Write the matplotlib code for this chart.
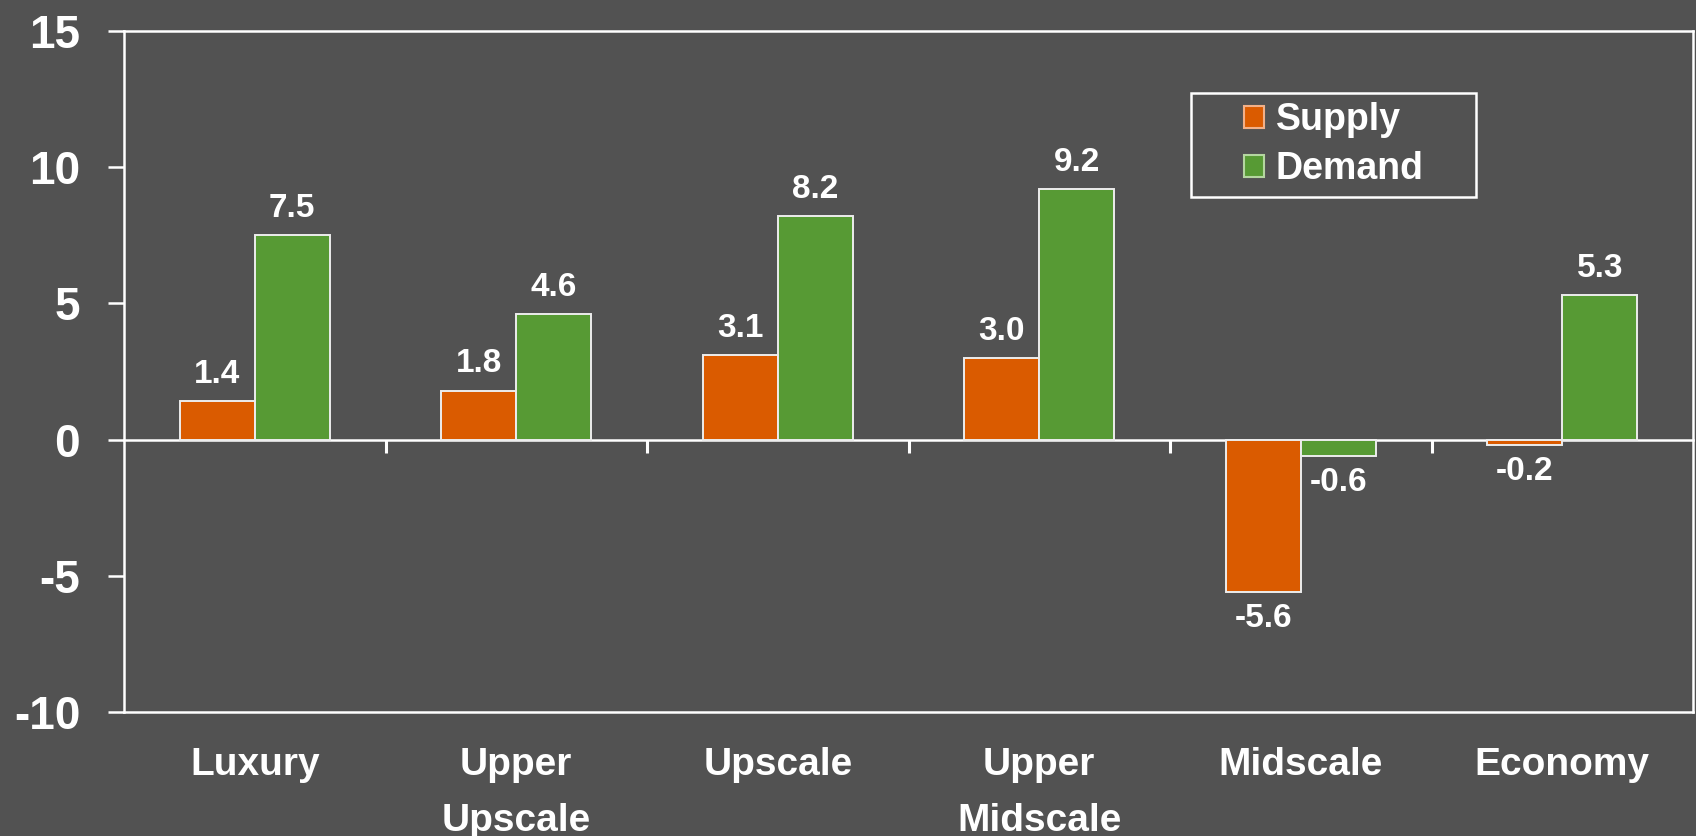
import matplotlib
matplotlib.use("Agg")
import matplotlib.pyplot as plt
import numpy as np
from matplotlib.patches import Patch
from matplotlib.path import Path

# Data
categories = ["Luxury", "Upper\nUpscale", "Upscale", "Upper\nMidscale", "Midscale", "Economy"]
supply = [1.4, 1.8, 3.1, 3.0, -5.6, -0.2]
demand = [7.5, 4.6, 8.2, 9.2, -0.6, 5.3]
series_names = ["Supply", "Demand"]
y_ticks = [-10, -5, 0, 5, 10, 15]

BG = "#525252"
ORANGE = "#DA5B00"
GREEN = "#579A34"
WHITE = "white"

FONT = ["Liberation Sans", "DejaVu Sans"]

fig = plt.figure(figsize=(16.96, 8.36), dpi=100, facecolor=BG)
ax = fig.add_axes([124 / 1696, 1 - 712 / 836, 1569 / 1696, 681 / 836])
ax.set_facecolor(BG)

x = np.arange(len(categories))
w = 0.287
bars_s = ax.bar(x - w / 2, supply, w, color=ORANGE, edgecolor="#EDEDED", linewidth=1.4, zorder=2)
bars_d = ax.bar(x + w / 2, demand, w, color=GREEN, edgecolor="#EDEDED", linewidth=1.4, zorder=2)

ax.set_xlim(-0.5, len(categories) - 0.5)
ax.set_ylim(y_ticks[0], y_ticks[-1])

# Frame
for side in ["left", "right", "top", "bottom"]:
    ax.spines[side].set_color(WHITE)
    ax.spines[side].set_linewidth(1.8)

ax.set_yticks(y_ticks)
ax.set_yticklabels([str(v) for v in y_ticks], family=FONT, fontsize=33,
                   fontweight="bold", color=WHITE)
ax.tick_params(axis="y", direction="out", length=11.5, width=1.8, color=WHITE, pad=20)

ax.set_xticks(x)
ax.set_xticklabels(categories, family=FONT, fontsize=28, fontweight="bold",
                   color=WHITE, linespacing=1.72)
ax.tick_params(axis="x", length=0, pad=25)

# Zero line with category separators
ymin, ymax = ax.get_ylim()
zero_frac = (0 - ymin) / (ymax - ymin)
zax = ax.secondary_xaxis(zero_frac)
zax.set_xticks(x[:-1] + 0.5)
zax.tick_params(axis="x", direction="out", length=9.5, width=2.2, color=WHITE,
                labelbottom=False, labeltop=False)
for s in zax.spines.values():
    s.set_color(WHITE)
    s.set_linewidth(1.8)

# Value labels
for bars, vals in ((bars_s, supply), (bars_d, demand)):
    for b, v in zip(bars, vals):
        cx = b.get_x() + b.get_width() / 2
        if v >= 0:
            ax.annotate(f"{v:.1f}", (cx, v), xytext=(0, 8), textcoords="offset points",
                        ha="center", va="bottom", fontsize=24, fontweight="bold",
                        color=WHITE, family=FONT)
        else:
            ax.annotate(f"{v:.1f}", (cx, v), xytext=(0, -8), textcoords="offset points",
                        ha="center", va="top", fontsize=24, fontweight="bold",
                        color=WHITE, family=FONT)

# Legend with a wider frame
def wide_frame(x0, y0, width, height, mutation_size):
    padx = 1.15 * mutation_size
    x0 = x0 - padx
    width = width + 2 * padx
    verts = [(x0, y0), (x0 + width, y0), (x0 + width, y0 + height), (x0, y0 + height), (x0, y0)]
    return Path(verts, closed=True)

handles = [Patch(facecolor=ORANGE, edgecolor="#F2B088", linewidth=1.5),
           Patch(facecolor=GREEN, edgecolor="#B4D6A0", linewidth=1.5)]
leg = ax.legend(handles, series_names, loc="center", bbox_to_anchor=(0.771, 0.833),
                frameon=True, fancybox=False, borderpad=0.25, labelspacing=0.35,
                handlelength=0.55, handleheight=0.55, handletextpad=0.3,
                prop=dict(family=FONT, size=27, weight="bold"))
for t in leg.get_texts():
    t.set_color(WHITE)
frame = leg.get_frame()
frame.set_facecolor(BG)
frame.set_edgecolor(WHITE)
frame.set_linewidth(1.8)
frame.set_alpha(None)
frame.set_boxstyle(wide_frame)

fig.savefig("out.png", dpi=100, facecolor=BG)
